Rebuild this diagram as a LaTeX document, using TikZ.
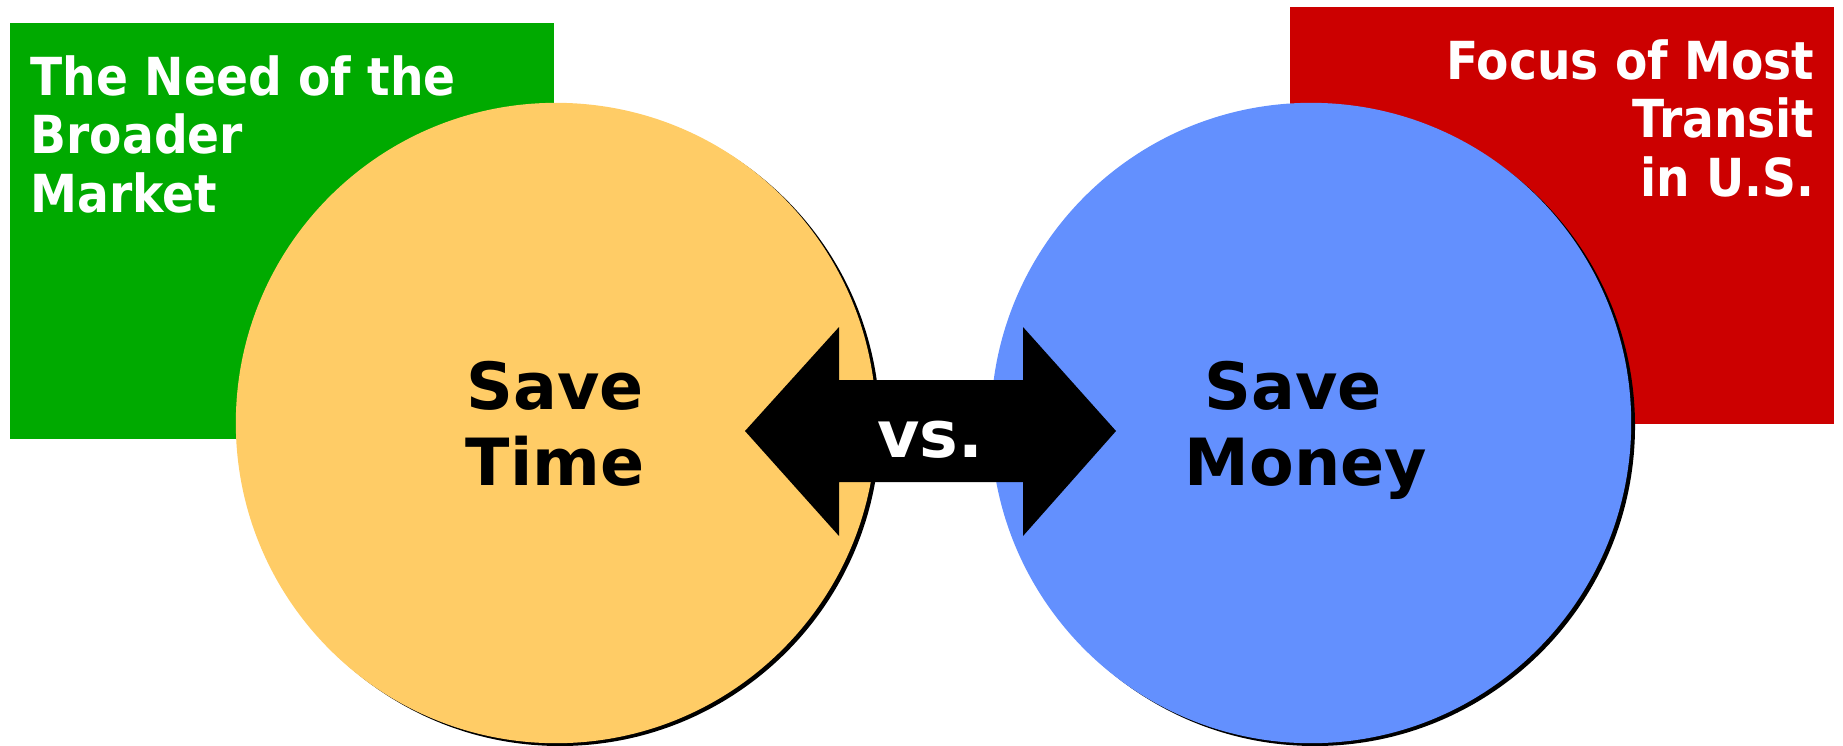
\documentclass[tikz,border=0pt]{standalone}
\usepackage{fontspec}
\setmainfont{DejaVu Sans}
\newfontfamily\condfont{DejaVu Sans Condensed}
\definecolor{boxgreen}{RGB}{0,170,0}
\definecolor{boxred}{RGB}{204,0,0}
\definecolor{sunyellow}{RGB}{255,204,102}
\definecolor{skyblue}{RGB}{99,144,254}
\tikzset{
  bubble/.style={circle, inner sep=0pt, minimum size=6.4cm},
  cornertext/.style={inner sep=0pt, text=white, font=\condfont\bfseries\fontsize{14.9pt}{16.5pt}\selectfont},
  bigtext/.style={inner sep=0pt, font=\bfseries\fontsize{18.5pt}{21.6pt}\selectfont, align=center}
}
\begin{document}
\begin{tikzpicture}[x=0.01cm, y=-0.01cm]
\useasboundingbox (0,0) rectangle (1843,745);
% boxes
\fill[boxgreen] (10,23) rectangle (554,439);
\fill[boxred] (1290,7) rectangle (1834,424);
% shadows
\fill[black] (560,426) circle[radius=320];
\fill[black] (1315,426) circle[radius=320];
% circles
\node[bubble, fill=sunyellow] (time) at (556,423) {};
\node[bubble, fill=skyblue] (money) at (1311,423) {};
% corner texts (base anchor = last line)
\node[cornertext, anchor=base west, align=left] (need) at (30,212) {The Need of the\\Broader\\Market};
\node[cornertext, anchor=base east, align=right] (focus) at (1815,196) {Focus of Most\\Transit\\in U.S.};
% double arrow
\fill[black] (745,431) -- (839,327) -- (839,380) -- (1023,380) -- (1023,327)
  -- (1116,431) -- (1023,536) -- (1023,482) -- (839,482) -- (839,536) -- cycle;
\node[bigtext, text=white, anchor=base] (vs) at (930,457) {vs.};
% circle texts
\node[bigtext, anchor=base] (savetime) at (555,485) {Save\\Time};
\node[bigtext, anchor=base] (savemoney) at (1306,485) {Save\hspace*{0.4em}\\Money};
\end{tikzpicture}
\end{document}
